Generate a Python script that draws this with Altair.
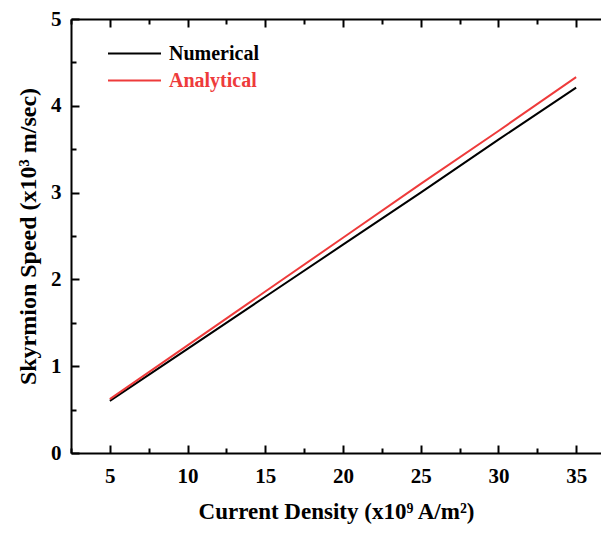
import altair as alt
import pandas as pd

# Data
current = [5, 10, 15, 20, 25, 30, 35]
numerical = [0.60, 1.20, 1.80, 2.40, 3.00, 3.61, 4.21]
analytical = [0.62, 1.24, 1.86, 2.48, 3.10, 3.71, 4.33]
series_names = ["Numerical", "Analytical"]
series_colors = ["#000000", "#EE3B3B"]

x_ticks = [2.5, 5, 7.5, 10, 12.5, 15, 17.5, 20, 22.5, 25, 27.5, 30, 32.5, 35]
y_ticks = [0, 0.5, 1, 1.5, 2, 2.5, 3, 3.5, 4, 4.5, 5]
x_domain = [2.5, 36.6]
y_domain = [0, 5]

W, H = 530, 434
FONT = "Liberation Serif"

df = pd.DataFrame({
    "j": current + current,
    "v": numerical + analytical,
    "s": [series_names[0]] * len(current) + [series_names[1]] * len(current),
})

xs = alt.Scale(domain=x_domain, nice=False, zero=False)
ys = alt.Scale(domain=y_domain, nice=False, zero=False)

x_size = {"condition": {"test": "datum.value % 5 === 0", "value": -8}, "value": -5}
y_size = {"condition": {"test": "datum.value % 1 === 0", "value": -8}, "value": -5}
x_lab = "datum.value % 5 === 0 ? format(datum.value, 'd') : ''"
y_lab = "datum.value % 1 === 0 ? format(datum.value, 'd') : ''"

X_BOTTOM = alt.Axis(
    orient="bottom", values=x_ticks, labelExpr=x_lab, tickSize=x_size,
    grid=False, domainColor="black", domainWidth=2, tickColor="black", tickWidth=2,
    labelFont=FONT, labelFontSize=21, labelFontWeight="bold", labelColor="black",
    labelPadding=20, title="Current Density (x10\u2079 A/m\u00b2)",
    titleFont=FONT, titleFontSize=23, titleFontWeight="bold", titleColor="black",
    titlePadding=14)
X_TOP = alt.Axis(
    orient="top", values=x_ticks, labels=False, tickSize=x_size, title=None,
    grid=False, domainColor="black", domainWidth=2, tickColor="black", tickWidth=2)
Y_LEFT = alt.Axis(
    orient="left", values=y_ticks, labelExpr=y_lab, tickSize=y_size,
    grid=False, domainColor="black", domainWidth=2, tickColor="black", tickWidth=2,
    labelFont=FONT, labelFontSize=21, labelFontWeight="bold", labelColor="black",
    labelPadding=18, title="Skyrmion Speed (x10\u00b3 m/sec)",
    titleFont=FONT, titleFontSize=24, titleFontWeight="bold", titleColor="black",
    titlePadding=10)


def legend(name_color, ly):
    return alt.Legend(title=None, orient="none", legendX=36, legendY=ly,
                      symbolType="stroke", symbolSize=2809, symbolStrokeWidth=2,
                      labelFont=FONT, labelFontSize=20, labelFontWeight="bold",
                      labelColor=name_color, labelOffset=7, padding=0)


num = alt.Chart(df).transform_filter(alt.datum.s == series_names[0]).mark_line(
    strokeWidth=2).encode(
    x=alt.X("j:Q", scale=xs, axis=X_BOTTOM),
    y=alt.Y("v:Q", scale=ys, axis=Y_LEFT),
    color=alt.Color("s:N", scale=alt.Scale(domain=[series_names[0]], range=[series_colors[0]]),
                    legend=legend(series_colors[0], 7)),
)

ana = alt.Chart(df).transform_filter(alt.datum.s == series_names[1]).mark_line(
    strokeWidth=2).encode(
    x=alt.X("j:Q", scale=xs, axis=X_TOP),
    y=alt.Y("v:Q", scale=ys, axis=Y_LEFT),
    stroke=alt.Stroke("s:N", scale=alt.Scale(domain=[series_names[1]], range=[series_colors[1]]),
                      legend=legend(series_colors[1], 34)),
)

chart = alt.layer(num, ana).resolve_axis(x="independent").properties(
    width=W, height=H,
    autosize=alt.AutoSizeParams(type="none"),
    padding={"left": 63, "top": 11, "right": 0, "bottom": 74},
).configure_view(stroke=None)

chart.save("out.html", embed_options={"renderer": "svg", "actions": False})
